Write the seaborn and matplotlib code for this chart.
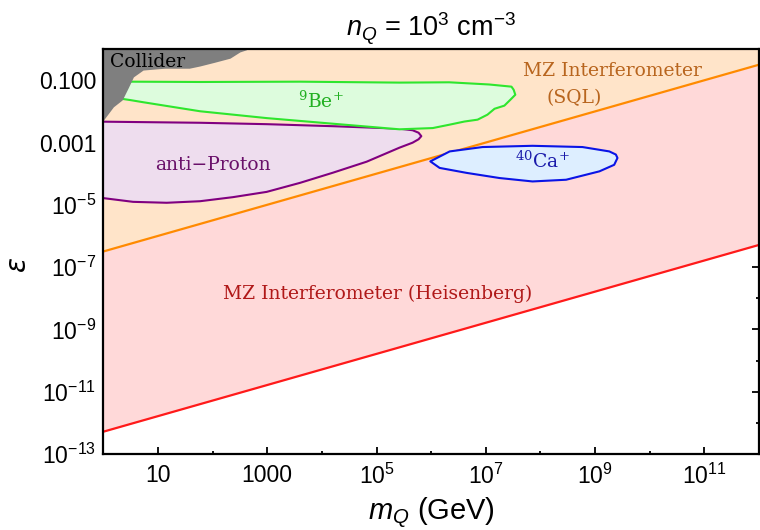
import numpy as np
import matplotlib
matplotlib.use("Agg")
import matplotlib.pyplot as plt
from matplotlib.ticker import NullFormatter
import seaborn as sns

# ---- data -------------------------------------------------------------
# axis ranges
m_range = [1.0, 1e12]          # GeV
eps_range = [1e-13, 1.0]

# Mach-Zehnder interferometer reach (straight lines in log-log space)
line_mass = [1.0, 1e12]
eps_sql = [3.2e-7, 0.32]
eps_heisenberg = [5.2e-13, 5.2e-7]

# region outlines, given as log10(m / GeV) and log10(eps)
collider_logm = [-0.3, 2.66, 2.62, 2.50, 2.32, 2.04, 1.77, 1.58, 1.13, 0.73,
                 0.545, 0.45, 0.34, 0.18, 0.0, -0.3]
collider_logeps = [0.3, 0.3, 0.0, -0.07, -0.27, -0.40, -0.52, -0.59, -0.59,
                   -0.65, -0.88, -1.23, -1.62, -1.84, -2.26, -2.30]

be9_logm = [0.10, 0.20, 0.30, 0.51, 1.77, 3.60, 5.42, 6.33, 7.06, 7.47, 7.51,
            7.54, 7.45, 7.34, 7.16, 7.03, 6.85, 6.61, 6.34, 6.03, 5.42, 4.20,
            2.99, 1.77, 0.73, 0.49, 0.30, 0.15]
be9_logeps = [-1.25, -1.10, -1.07, -1.04, -1.05, -1.04, -1.07, -1.06, -1.13,
              -1.20, -1.30, -1.46, -1.62, -1.81, -1.91, -2.10, -2.26, -2.32,
              -2.42, -2.53, -2.57, -2.39, -2.21, -1.99, -1.70, -1.63, -1.58,
              -1.45]

pbar_logm = [-0.3, 0.0, 1.77, 2.99, 4.20, 5.42, 5.66, 5.77, 5.82, 5.77, 5.66,
             5.42, 4.82, 4.20, 3.60, 2.99, 2.37, 1.77, 1.16, 0.545, 0.0, -0.3]
pbar_logeps = [-2.32, -2.325, -2.36, -2.405, -2.47, -2.55, -2.60, -2.68, -2.79,
               -2.89, -3.00, -3.16, -3.61, -3.965, -4.29, -4.58, -4.75, -4.88,
               -4.93, -4.90, -4.78, -4.75]

ca40_logm = [5.985, 6.34, 6.94, 7.855, 8.77, 9.26, 9.38, 9.41, 9.35,
             9.08, 8.47, 7.855, 7.25, 6.65, 6.155]
ca40_logeps = [-3.60, -3.28, -3.14, -3.10, -3.14, -3.28, -3.38, -3.49,
               -3.71, -3.92, -4.19, -4.245, -4.135, -3.97, -3.81]

# tick positions and labels
x_major = [10.0, 1e3, 1e5, 1e7, 1e9, 1e11]
x_labels = ["10", "1000", "$10^{5}$", "$10^{7}$", "$10^{9}$", "$10^{11}$"]
x_minor = [1.0, 1e2, 1e4, 1e6, 1e8, 1e10, 1e12]
y_major = [1e-1, 1e-3, 1e-5, 1e-7, 1e-9, 1e-11, 1e-13]
y_labels = ["0.100", "0.001", "$10^{-5}$", "$10^{-7}$", "$10^{-9}$",
            "$10^{-11}$", "$10^{-13}$"]
y_minor = [1.0, 1e-2, 1e-4, 1e-6, 1e-8, 1e-10, 1e-12]

# ---- style ------------------------------------------------------------
sns.set_theme(style="ticks")
plt.rcParams["font.family"] = ["Liberation Sans", "DejaVu Sans"]
plt.rcParams["mathtext.fontset"] = "custom"
plt.rcParams["mathtext.rm"] = "Liberation Sans"
plt.rcParams["mathtext.it"] = "Liberation Sans:italic"
plt.rcParams["mathtext.bf"] = "Liberation Sans:bold"
plt.rcParams["text.color"] = "black"
plt.rcParams["axes.labelcolor"] = "black"
plt.rcParams["xtick.color"] = "black"
plt.rcParams["ytick.color"] = "black"

SERIF = ["DejaVu Serif"]

fig = plt.figure(figsize=(7.6, 5.3), dpi=100)
ax = fig.add_axes([103.3 / 760, 76 / 530, (759 - 103.3) / 760, (454 - 49.3) / 530])
ax.set_xscale("log")
ax.set_yscale("log")
ax.set_xlim(*m_range)
ax.set_ylim(*eps_range)

# shaded interferometer regions
ax.fill_between(line_mass, eps_sql, [eps_range[1]] * 2, color="#FFE4C9", lw=0, zorder=1)
ax.fill_between(line_mass, eps_heisenberg, eps_sql, color="#FFD9D9", lw=0, zorder=1)

sns.lineplot(x=line_mass, y=eps_sql, ax=ax, color="#FF8A00", lw=1.6, zorder=3)
sns.lineplot(x=line_mass, y=eps_heisenberg, ax=ax, color="#FF1A1A", lw=1.6, zorder=3)


def outline(logm, logeps, face, edge, z):
    m = np.power(10.0, logm)
    e = np.power(10.0, logeps)
    ax.fill(m, e, facecolor=face, edgecolor=edge, lw=1.5, zorder=z,
            joinstyle="round")


outline(pbar_logm, pbar_logeps, "#EEDDEE", "#800080", 4)
outline(be9_logm, be9_logeps, "#DDFCDD", "#2EE62E", 5)
outline(ca40_logm, ca40_logeps, "#DDEEFF", "#0A14E6", 5)
outline(collider_logm, collider_logeps, "#7F7F7F", "#7F7F7F", 6)

# region labels
txt = dict(fontfamily=SERIF, math_fontfamily="dejavuserif", fontsize=13.5, zorder=8)
ax.text(10**0.12, 10**-0.42, "Collider", color="black", ha="left", va="center", **txt)
ax.text(10**3.99, 10**-1.67, "$^{9}$Be$^{+}$", color="#22B022", ha="center", va="center", **txt)
ax.text(10**2.01, 10**-3.71, "anti\u2212Proton", color="#6A106A", ha="center", va="center", **txt)
ax.text(10**8.04, 10**-3.60, "$^{40}$Ca$^{+}$", color="#1A1AAA", ha="center", va="center", **txt)
ax.text(10**9.32, 10**-0.71, "MZ Interferometer", color="#B8651E", ha="center", va="center", **txt)
ax.text(10**8.62, 10**-1.56, "(SQL)", color="#B8651E", ha="center", va="center", **txt)
ax.text(10**5.02, 10**-7.86, "MZ Interferometer (Heisenberg)", color="#B01818",
        ha="center", va="center", **txt)

# axes, ticks and labels
ax.set_xticks(x_major, x_labels)
ax.set_xticks(x_minor, minor=True)
ax.set_yticks(y_major, y_labels)
ax.set_yticks(y_minor, minor=True)
ax.xaxis.set_minor_formatter(NullFormatter())
ax.yaxis.set_minor_formatter(NullFormatter())
ax.tick_params(which="both", direction="in", top=True, right=True, colors="black",
               labelsize=16.5)
ax.tick_params(which="major", length=5, width=1.3)
ax.tick_params(which="minor", length=2.5, width=1.3)
ax.tick_params(axis="x", pad=7)
ax.tick_params(axis="y", pad=5)
for s in ax.spines.values():
    s.set_linewidth(1.6)
    s.set_color("black")
    s.set_zorder(10)

ax.set_xlabel("$m_Q$ (GeV)", fontsize=21, labelpad=5, color="black")
ax.set_ylabel("$\\epsilon$", fontsize=20, math_fontfamily="dejavusans",
              rotation=90, va="center", ha="center", color="black")
ax.yaxis.set_label_coords(-0.128, 0.468)
ax.set_title("$n_Q$ = 10$^3$ cm$^{-3}$", fontsize=19.5, pad=9, color="black")

fig.savefig("out.png", dpi=100)
